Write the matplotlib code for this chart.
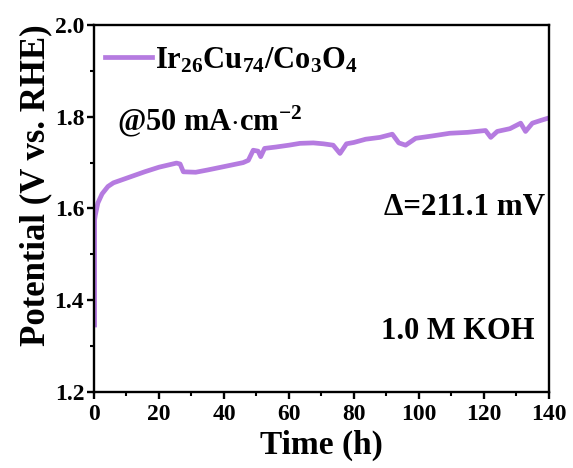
import matplotlib
matplotlib.use("Agg")
import matplotlib.pyplot as plt
from matplotlib.ticker import MultipleLocator

plt.rcParams['font.family'] = ['Liberation Serif', 'DejaVu Serif']
plt.rcParams['font.weight'] = 'bold'
plt.rcParams['mathtext.fontset'] = 'custom'
plt.rcParams['mathtext.rm'] = 'Liberation Serif:bold'
plt.rcParams['mathtext.it'] = 'Liberation Serif:bold'
plt.rcParams['mathtext.bf'] = 'Liberation Serif:bold'

# Data (time in h, potential in V vs. RHE)
time_h = [0.2, 0.2, 0.4, 1.2, 2.5, 4.3, 6.0, 8.4, 12.0, 15.6, 20.0, 25.4, 26.5,
          27.5, 31.3, 35.0, 39.8, 45.9, 47.5, 49.0, 50.5, 51.3, 52.5, 56.0,
          60.0, 63.4, 67.5, 70.6, 73.6, 75.7, 77.7, 80.0, 83.6, 88.0, 91.8,
          93.8, 95.9, 99.0, 104.0, 109.5, 115.0, 120.5, 122.1, 124.1, 128.0,
          131.3, 132.8, 134.9, 137.5, 139.8]
potential = [1.346, 1.575, 1.585, 1.612, 1.632, 1.648, 1.656, 1.662, 1.671, 1.680,
             1.690, 1.699, 1.697, 1.680, 1.679, 1.684, 1.691, 1.700, 1.705, 1.727,
             1.725, 1.713, 1.731, 1.734, 1.738, 1.742, 1.743, 1.741, 1.738, 1.720,
             1.741, 1.744, 1.751, 1.755, 1.762, 1.743, 1.738, 1.753, 1.758, 1.764,
             1.766, 1.770, 1.755, 1.768, 1.774, 1.786, 1.768, 1.786, 1.792, 1.797]

series_label = r'Ir$_{26}$Cu$_{74}$/Co$_{3}$O$_{4}$'
x_ticks = [0, 20, 40, 60, 80, 100, 120, 140]
y_ticks = [1.2, 1.4, 1.6, 1.8, 2.0]

fig = plt.figure(figsize=(5.73, 4.68), dpi=100)
ax = fig.add_axes([0.164, 0.1624, 0.794, 0.7842])

ax.plot(time_h, potential, color='#B57BE0', lw=3.4, label=series_label,
        solid_joinstyle='round')

ax.set_xlim(0, 140)
ax.set_ylim(1.2, 2.0)
ax.set_xticks(x_ticks)
ax.set_yticks(y_ticks)
ax.xaxis.set_minor_locator(MultipleLocator(10))
ax.yaxis.set_minor_locator(MultipleLocator(0.1))
ax.set_xticklabels([str(t) for t in x_ticks])
ax.set_yticklabels([f'{v:.1f}' for v in y_ticks])

for s in ax.spines.values():
    s.set_linewidth(1.7)
ax.tick_params(which='major', direction='out', length=5, width=1.7,
               labelsize=17, pad=2, top=False, right=False)
ax.tick_params(axis='x', which='major', pad=4)
ax.tick_params(which='minor', direction='out', length=3, width=1.5,
               top=False, right=False)
for lab in ax.get_xticklabels() + ax.get_yticklabels():
    lab.set_fontweight('bold')

ax.set_xlabel('Time (h)', fontsize=24, fontweight='bold', labelpad=3)
ax.set_ylabel('Potential (V vs. RHE)', fontsize=25, fontweight='bold')
ax.yaxis.set_label_coords(-0.092, 0.564)

leg = ax.legend(loc='upper left', bbox_to_anchor=(0.0, 0.973), frameon=False,
                handlelength=1.55, handletextpad=0.1, borderaxespad=0.0,
                borderpad=0.35,
                prop={'size': 22, 'weight': 'bold'})

ax.text(0.051, 0.714, r'@50 mA$\cdot$cm$^{-2}$', transform=ax.transAxes,
        fontsize=22, fontweight='bold', ha='left', va='baseline')
ax.text(0.991, 0.482, '\u0394=211.1 mV', transform=ax.transAxes,
        fontsize=22.3, fontweight='bold', ha='right', va='baseline')
ax.text(0.969, 0.144, '1.0 M KOH', transform=ax.transAxes,
        fontsize=22, fontweight='bold', ha='right', va='baseline')

fig.savefig('out.png', dpi=100)
